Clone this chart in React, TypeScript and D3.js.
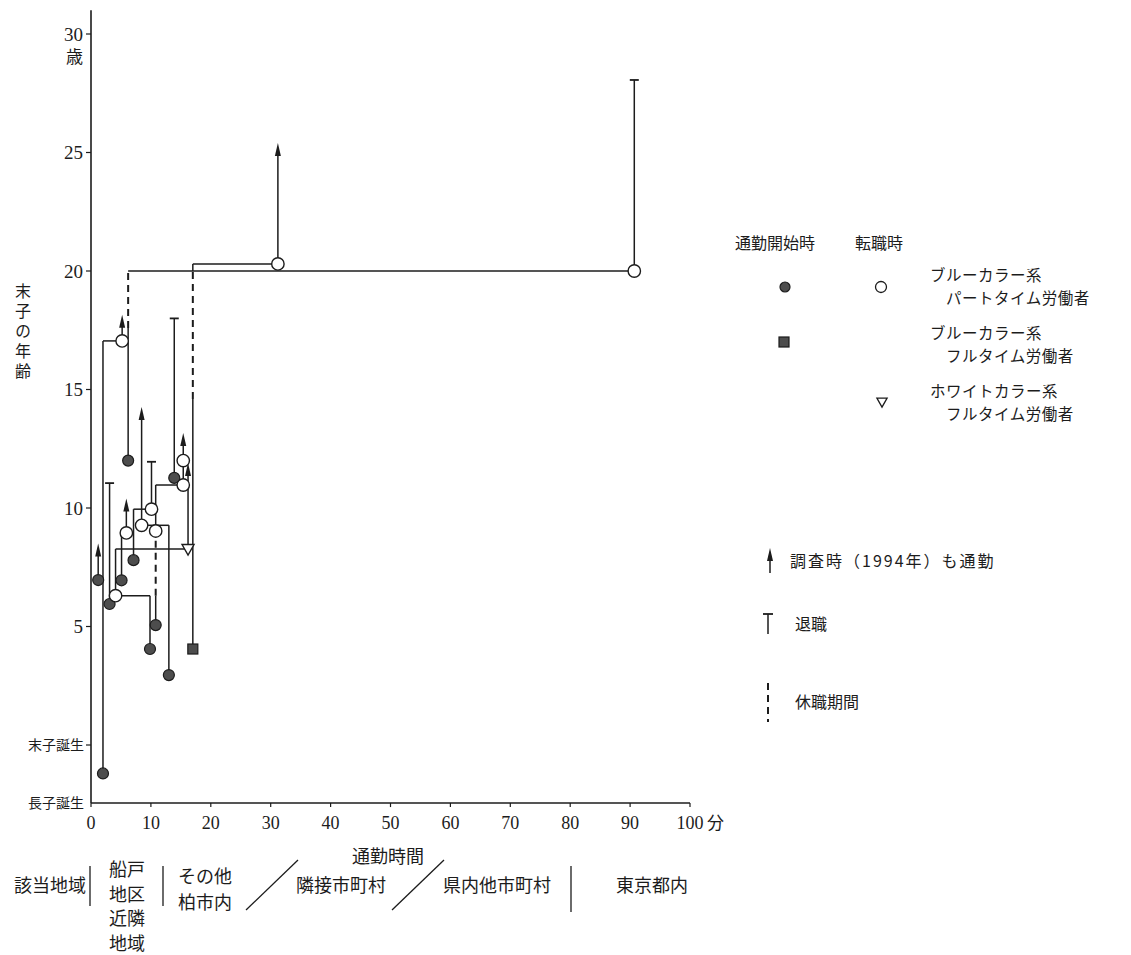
import * as d3 from 'd3';

const W = 1131;
const H = 955;
const JP = "'Noto Sans CJK JP', 'Noto Sans CJK SC', sans-serif";
const NUM = "'Liberation Serif', 'DejaVu Serif', serif";
const INK = '#1c1c1c';
const DOT_FILL = '#4d4d4d';

// 軸
const xTicks = [0, 10, 20, 30, 40, 50, 60, 70, 80, 90, 100];
const yTicks = [5, 10, 15, 20, 25, 30];
const LAST_BIRTH = 0; // 末子誕生
const FIRST_BIRTH = -2.45; // 長子誕生
const Y_TOP = 31;

// 経歴: [通勤時間(分), 末子の年齢, 'd' = 休職期間としてその区間を破線]
type Node = [number, number, string?];
type Career = {
  start: 'dot' | 'square';
  path: Node[];
  moves: [number, number, 'o' | 'v'][];
  end: 'arrow' | 'bar';
};

const careerA: Career = { start: 'dot', path: [[2.0, -1.2], [2.0, 17.05], [5.2, 17.05], [5.2, 18.15]], moves: [[5.2, 17.05, 'o']], end: 'arrow' };
const careerB: Career = { start: 'dot', path: [[1.2, 6.96], [1.2, 8.5]], moves: [], end: 'arrow' };
const careerC: Career = { start: 'dot', path: [[3.1, 5.95], [3.1, 11.05]], moves: [], end: 'bar' };
const careerD: Career = { start: 'dot', path: [[5.1, 6.95], [5.1, 8.95], [5.9, 8.95], [5.9, 10.4]], moves: [[5.9, 8.95, 'o']], end: 'arrow' };
const careerE: Career = { start: 'dot', path: [[7.1, 7.8], [7.1, 9.95], [10.1, 9.95], [10.1, 11.95]], moves: [[10.1, 9.95, 'o']], end: 'bar' };
const careerF: Career = { start: 'dot', path: [[6.2, 12.0], [6.2, 17.6], [6.2, 20.0, 'd'], [90.7, 20.0], [90.7, 28.06]], moves: [[90.7, 20.0, 'o']], end: 'bar' };
const careerG: Career = { start: 'dot', path: [[9.85, 4.05], [9.85, 6.3], [4.1, 6.3], [4.1, 8.27], [16.2, 8.27], [16.2, 11.9]], moves: [[4.1, 6.3, 'o'], [16.2, 8.27, 'v']], end: 'arrow' };
const careerH: Career = { start: 'dot', path: [[10.8, 5.06], [10.8, 6.3], [10.8, 9.03, 'd'], [10.8, 10.97], [15.4, 10.97], [15.4, 13.16]], moves: [[10.8, 9.03, 'o'], [15.4, 10.97, 'o'], [15.4, 12.0, 'o']], end: 'arrow' };
const careerI: Career = { start: 'dot', path: [[13.0, 2.95], [13.0, 9.27], [8.45, 9.27], [8.45, 14.26]], moves: [[8.45, 9.27, 'o']], end: 'arrow' };
const careerJ: Career = { start: 'dot', path: [[13.9, 11.27], [13.9, 18.0]], moves: [], end: 'bar' };
const careerK: Career = { start: 'square', path: [[17.0, 4.05], [17.0, 14.6], [17.0, 20.0, 'd'], [17.0, 20.3], [31.2, 20.3], [31.2, 25.4]], moves: [[31.2, 20.3, 'o']], end: 'arrow' };

const careers = [careerA, careerB, careerC, careerD, careerE, careerF, careerG, careerH, careerI, careerJ, careerK];

// 凡例
const legendHead = ['通勤開始時', '転職時'];
const legendRows = [
  ['ブルーカラー系', 'パートタイム労働者'],
  ['ブルーカラー系', 'フルタイム労働者'],
  ['ホワイトカラー系', 'フルタイム労働者'],
];
const legendNotes = ['調査時（1994年）も通勤', '退職', '休職期間'];

// 該当地域
const regionNames = [['該当地域'], ['船戸', '地区', '近隣', '地域'], ['その他', '柏市内'], ['隣接市町村'], ['県内他市町村'], ['東京都内']];

const arrowHead = (cx: number, tip: number) => `M${cx},${tip} L${cx - 3},${tip + 13} L${cx + 3},${tip + 13} Z`;
const triDown = (cx: number, cy: number, s = 1) =>
  `M${cx - 6 * s},${cy - 4.5 * s} L${cx + 6 * s},${cy - 4.5 * s} L${cx},${cy + 6 * s} Z`;

export default function App() {
  const x = d3.scaleLinear().domain([0, 100]).range([91, 690]);
  const y = d3.scaleLinear().domain([0, 30]).range([745, 34]);
  const x0 = x(0);
  const yBase = y(FIRST_BIRTH);

  const segments: { x1: number; y1: number; x2: number; y2: number; dashed: boolean }[] = [];
  careers.forEach((c) => {
    c.path.forEach((p, i) => {
      if (i === 0) return;
      const q = c.path[i - 1];
      const last = i === c.path.length - 1;
      let y2 = y(p[1]);
      if (last && c.end === 'arrow') y2 += 8;
      segments.push({ x1: x(q[0]), y1: y(q[1]), x2: x(p[0]), y2, dashed: p[2] === 'd' });
    });
  });

  const regionX = [50, 127, 205, 341, 497, 652];
  const sepX = [90, 163, 571];
  const slashes = [[246, 910, 298, 860], [392, 910, 444, 860]];

  return (
    <div style={{ position: 'absolute', left: 0, top: 0 }}>
      <svg width={W} height={H} style={{ display: 'block', background: '#fff' }}>
        {/* 軸 */}
        <line x1={x0} x2={x0} y1={y(Y_TOP)} y2={yBase} stroke={INK} strokeWidth={1.6} />
        <line x1={x0} x2={x(100)} y1={yBase} y2={yBase} stroke={INK} strokeWidth={1.6} />
        {yTicks.map((t) => (
          <g key={t}>
            <line x1={x0 - 5} x2={x0} y1={y(t)} y2={y(t)} stroke={INK} strokeWidth={1.2} />
            <text x={83} y={y(t)} dy="0.35em" textAnchor="end" fontFamily={NUM} fontSize={19} fill={INK}>{t}</text>
          </g>
        ))}
        <text x={83} y={y(30) + 23} dy="0.35em" textAnchor="end" fontFamily={JP} fontSize={17} fill={INK}>歳</text>
        <line x1={x0 - 5} x2={x0} y1={y(LAST_BIRTH)} y2={y(LAST_BIRTH)} stroke={INK} strokeWidth={1.2} />
        <text x={84} y={y(LAST_BIRTH)} dy="0.35em" textAnchor="end" fontFamily={JP} fontSize={14} fill={INK}>末子誕生</text>
        <text x={84} y={yBase} dy="0.35em" textAnchor="end" fontFamily={JP} fontSize={14} fill={INK}>長子誕生</text>
        {xTicks.map((t) => (
          <g key={t}>
            <line x1={x(t)} x2={x(t)} y1={yBase} y2={yBase + 4} stroke={INK} strokeWidth={1.2} />
            <text x={x(t)} y={823} dy="0.35em" textAnchor="middle" fontFamily={NUM} fontSize={18} fill={INK}>{t}</text>
          </g>
        ))}
        <text x={x(100) + 17} y={823} dy="0.35em" fontFamily={JP} fontSize={17} fill={INK}>分</text>
        <text x={388} y={857} dy="0.35em" textAnchor="middle" fontFamily={JP} fontSize={18} fill={INK}>通勤時間</text>
        <text x={23} y={283} fontFamily={JP} fontSize={16} letterSpacing={4} fill={INK}
          style={{ writingMode: 'vertical-rl' }}>末子の年齢</text>

        {/* 経歴の線 */}
        {segments.map((s, i) => (
          <line key={i} x1={s.x1} y1={s.y1} x2={s.x2} y2={s.y2} stroke={INK}
            strokeWidth={s.dashed ? 2 : 1.5} strokeDasharray={s.dashed ? '7 5' : undefined} />
        ))}
        {careers.map((c, i) => {
          const p = c.path[c.path.length - 1];
          const cx = x(p[0]);
          const cy = y(p[1]);
          return c.end === 'arrow'
            ? <path key={i} d={arrowHead(cx, cy)} fill={INK} />
            : <line key={i} x1={cx - 4.5} x2={cx + 4.5} y1={cy} y2={cy} stroke={INK} strokeWidth={1.8} />;
        })}
        {careers.map((c, i) => {
          const [sx, sy] = c.path[0];
          return c.start === 'dot'
            ? <circle key={i} cx={x(sx)} cy={y(sy)} r={5.5} fill={DOT_FILL} stroke={INK} strokeWidth={1.2} />
            : <rect key={i} x={x(sx) - 5} y={y(sy) - 5} width={10} height={10} fill={DOT_FILL} stroke={INK} strokeWidth={1.2} />;
        })}
        {careers.flatMap((c, i) => c.moves.map((m, j) => (
          m[2] === 'o'
            ? <circle key={`${i}-${j}`} cx={x(m[0])} cy={y(m[1])} r={6.2} fill="#fff" stroke={INK} strokeWidth={1.4} />
            : <path key={`${i}-${j}`} d={triDown(x(m[0]), y(m[1]))} fill="#fff" stroke={INK} strokeWidth={1.4} />
        )))}

        {/* 凡例 */}
        <text x={735} y={243} dy="0.35em" fontFamily={JP} fontSize={16} fill={INK}>{legendHead[0]}</text>
        <text x={855} y={243} dy="0.35em" fontFamily={JP} fontSize={16} fill={INK}>{legendHead[1]}</text>
        <circle cx={785} cy={287} r={5} fill={DOT_FILL} stroke={INK} strokeWidth={1.2} />
        <circle cx={881} cy={287} r={5.5} fill="#fff" stroke={INK} strokeWidth={1.3} />
        <rect x={779} y={337} width={10} height={10} fill={DOT_FILL} stroke={INK} strokeWidth={1.2} />
        <path d={triDown(882, 402, 0.85)} fill="#fff" stroke={INK} strokeWidth={1.3} />
        {legendRows.map((r, i) => (
          <text key={i} x={930} y={276 + i * 58} fontFamily={JP} fontSize={15.5} letterSpacing={0.5} fill={INK}>
            <tspan x={930} dy="0.35em">{r[0]}</tspan>
            <tspan x={946} dy={23}>{r[1]}</tspan>
          </text>
        ))}
        <line x1={770} x2={770} y1={573} y2={556} stroke={INK} strokeWidth={1.5} />
        <path d={arrowHead(770, 548)} fill={INK} />
        <text x={790} y={561} dy="0.35em" fontFamily={JP} fontSize={16} letterSpacing={2} fill={INK}>{legendNotes[0]}</text>
        <line x1={768} x2={768} y1={634} y2={614} stroke={INK} strokeWidth={1.5} />
        <line x1={763} x2={773} y1={614} y2={614} stroke={INK} strokeWidth={1.8} />
        <text x={795} y={624} dy="0.35em" fontFamily={JP} fontSize={16} fill={INK}>{legendNotes[1]}</text>
        <line x1={768} x2={768} y1={683} y2={722} stroke={INK} strokeWidth={2} strokeDasharray="7 5" />
        <text x={795} y={702} dy="0.35em" fontFamily={JP} fontSize={16} fill={INK}>{legendNotes[2]}</text>

        {/* 該当地域 */}
        {regionNames.map((lines, i) => {
          const top = lines.length === 1 ? 886 : lines.length === 2 ? 877 : 870;
          const step = lines.length === 2 ? 26 : 24.5;
          return (
            <text key={i} x={regionX[i]} y={top} textAnchor="middle" fontFamily={JP} fontSize={18} fill={INK}>
              {lines.map((t, j) => (
                <tspan key={j} x={regionX[i]} dy={j === 0 ? '0.35em' : step}>{t}</tspan>
              ))}
            </text>
          );
        })}
        {sepX.map((sx, i) => (
          <line key={i} x1={sx} x2={sx} y1={866} y2={i === 2 ? 912 : 906} stroke={INK} strokeWidth={1.3} />
        ))}
        {slashes.map((s, i) => (
          <line key={i} x1={s[0]} y1={s[1]} x2={s[2]} y2={s[3]} stroke={INK} strokeWidth={1.3} />
        ))}
      </svg>
    </div>
  );
}
